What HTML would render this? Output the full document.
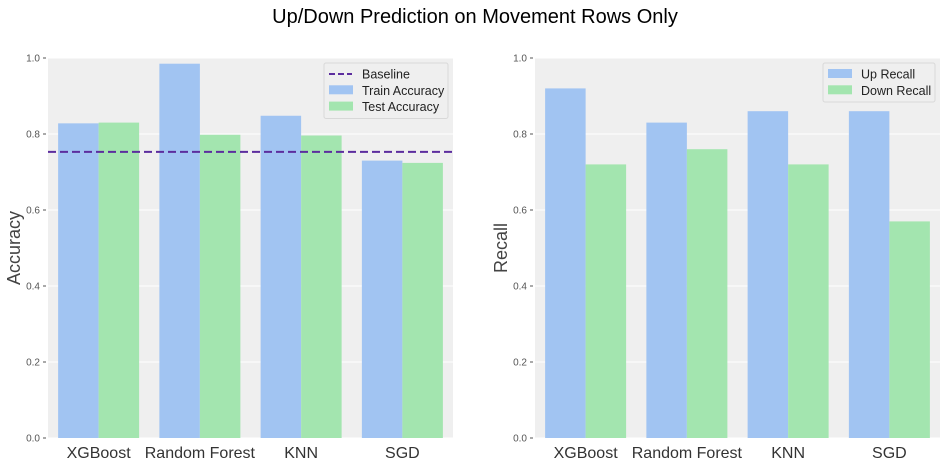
<!DOCTYPE html>
<html><head><meta charset="utf-8"><style>
body{margin:0;background:#fff;font-family:"Liberation Sans",Arial,sans-serif;}
svg text{font-family:"Liberation Sans",Arial,sans-serif;}
</style></head><body>
<svg id="chart" width="950" height="467" xmlns="http://www.w3.org/2000/svg">
<text x="475" y="23" text-anchor="middle" font-size="20" fill="#000">Up/Down Prediction on Movement Rows Only</text>
</svg>
<script>
const categories = ["XGBoost","Random Forest","KNN","SGD"];
const trainAcc = [0.828,0.985,0.848,0.730];
const testAcc = [0.830,0.798,0.796,0.724];
const baseline = 0.753;
const upRecall = [0.92,0.83,0.86,0.86];
const downRecall = [0.72,0.76,0.72,0.57];
const yTicks = [0.0,0.2,0.4,0.6,0.8,1.0];
const blue="#a1c4f2", green="#a3e5af";
const svg=document.getElementById('chart');
const NS="http://www.w3.org/2000/svg";
function el(tag,attrs,parent){const e=document.createElementNS(NS,tag);for(const k in attrs)e.setAttribute(k,attrs[k]);(parent||svg).appendChild(e);return e;}
function panel(x0,x1,yLabel,s1,s2,names){
  const y0=58,y1=438;
  const ys=v=>y1-(y1-y0)*v;
  const g=el('g',{});
  
  
  const bg=el('rect',{x:x0,y:y0,width:x1-x0,height:y1-y0,fill:"#efefef"},g);
  
  
  yTicks.forEach(t=>{
    const l=el('line',{x1:x0,x2:x1,y1:ys(t),y2:ys(t),stroke:"#fff","stroke-width":1},g);
    
    
    el('line',{x1:x0-5,x2:x0-2,y1:ys(t),y2:ys(t),stroke:"#555"},g);
    const tx=el('text',{x:x0-8,y:ys(t)+3.5,"text-anchor":"end","font-size":10,fill:"#555"},g);
    tx.textContent=t.toFixed(1);
    
    
  });
  const band=(x1-x0)/categories.length, bw=band*0.4;
  categories.forEach((c,i)=>{
    const cx=x0+band*(i+0.5);
    const b1=el('rect',{x:cx-bw,y:ys(s1[i]),width:bw,height:y1-ys(s1[i]),fill:blue},g);
    
    
    const b2=el('rect',{x:cx,y:ys(s2[i]),width:bw,height:y1-ys(s2[i]),fill:green},g);
    
    
    const tx=el('text',{x:cx,y:458,"text-anchor":"middle","font-size":16,fill:"#333"},g);
    tx.textContent=c;
    
    
  });
  const yl=el('text',{x:0,y:0,"text-anchor":"middle","font-size":18,fill:"#444",transform:`translate(${x0-28},${(y0+y1)/2}) rotate(-90)`},g);
  yl.textContent=yLabel;
  
  
  return {ys,g};
}
const L=panel(48,453,"Accuracy",trainAcc,testAcc,["train-accuracy","test-accuracy"]);
const bl=el('line',{x1:48,x2:453,y1:L.ys(baseline),y2:L.ys(baseline),stroke:"#5c2d9e","stroke-width":2,"stroke-dasharray":"8,4"},L.g);


const R=panel(535,940,"Recall",upRecall,downRecall,["up-recall","down-recall"]);
function legend(x,y,w,items){
  const g=el('g',{});
  
  
  el('rect',{x:x,y:y,width:w,height:items.length*16.5+6,fill:"#efefef",stroke:"#d8d8d8",rx:2},g);
  items.forEach((it,i)=>{
    const cy=y+11+i*16.3;
    if(it.type==='line'){el('line',{x1:x+5,x2:x+28,y1:cy,y2:cy,stroke:"#5c2d9e","stroke-width":2,"stroke-dasharray":"6,3"},g);}
    else{el('rect',{x:x+5,y:cy-5,width:24,height:9,fill:it.c},g);}
    const t=el('text',{x:x+38,y:cy+4.5,"font-size":12.5,fill:"#222"},g);
    t.textContent=it.label;
    
    
  });
}
legend(324,63,124,[{type:'line',label:'Baseline'},{c:blue,label:'Train Accuracy'},{c:green,label:'Test Accuracy'}]);
legend(823,63,112,[{c:blue,label:'Up Recall'},{c:green,label:'Down Recall'}]);
</script>
</body></html>
